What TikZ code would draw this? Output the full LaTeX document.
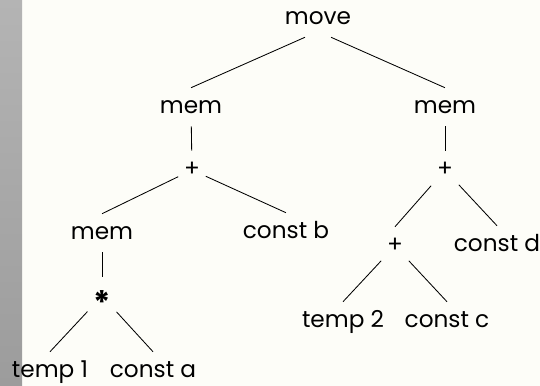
\documentclass[tikz,border=0pt]{standalone}
\usepackage{fontspec}
\setmainfont{Poppins}
\usepackage{tikz}
\definecolor{paper}{RGB}{253,253,248}
\definecolor{stripetop}{RGB}{180,180,180}
\definecolor{stripebot}{RGB}{156,156,156}
\tikzset{every node/.style={font=\fontsize{16.5}{20}\selectfont,text height=11pt,text depth=2pt,inner xsep=4pt,inner ysep=7pt},
  every edge/.style={draw,line width=0.6pt}}

\begin{document}
\begin{tikzpicture}[x=0.025cm,y=-0.025cm]
    \fill[paper] (0,0) rectangle (540,386);
    \shade[top color=stripetop,bottom color=stripebot] (0,0) rectangle (22,386);
    \useasboundingbox (0,0) rectangle (540,386);
    % left subtree
    \node (move) at (318,18) {move};
    \node (meml) at (191,107) {mem};
    \node (plusl) at (192,170) {+};
    \node (memll) at (102,233) {mem};
    \node (constb) at (286,232) {const b};
    \node (times) at (102,296) {\raisebox{-9pt}{\fontsize{23}{23}\selectfont\bfseries *}};
    \node (temp1) at (50,371) {temp 1};
    \node (consta) at (153,371) {const a};
    % right subtree
    \node (memr) at (445,107) {mem};
    \node (plusr) at (445,170) {+};
    \node (plusm) at (395,246) {+};
    \node (constd) at (497,245) {const d};
    \node (temp2) at (343,321) {temp 2};
    \node (constc) at (447,321) {const c};
    \path
    (move.236) edge (meml.north)
    (move.304) edge (memr.north)
    (meml) edge (plusl)
    (plusl) edge (memll.north)
    (plusl) edge (constb.north)
    (memll) edge (times)
    (times) edge (temp1.north)
    (times) edge (consta.north)
    (memr) edge (plusr)
    (plusr) edge (plusm.north)
    (plusr) edge (constd.north)
    (plusm) edge (temp2.north)
    (plusm) edge (constc.north)
    ;
\end{tikzpicture}
\end{document}
